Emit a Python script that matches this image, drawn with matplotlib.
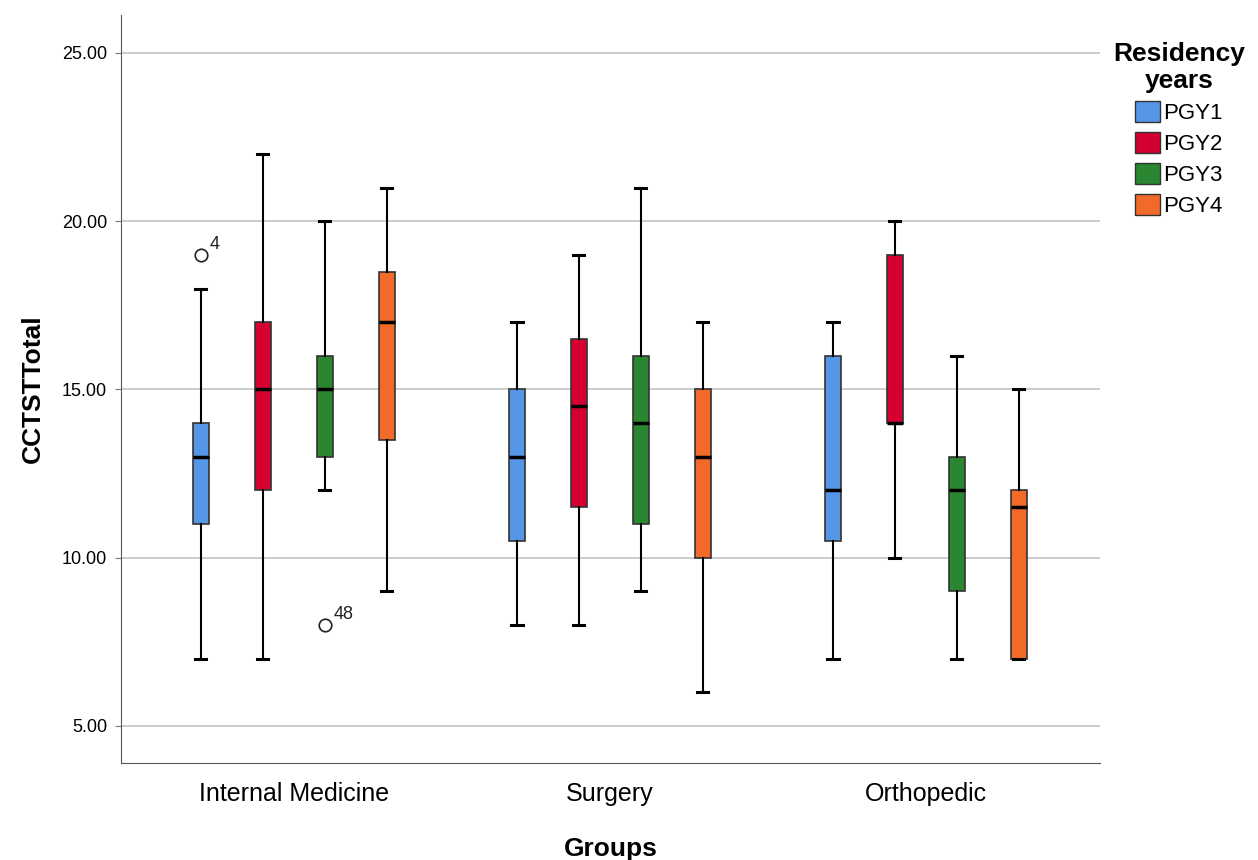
import matplotlib.pyplot as plt
from matplotlib.patches import Patch

plt.rcParams['font.family'] = ['Liberation Sans', 'DejaVu Sans']

groups = ["Internal Medicine", "Surgery", "Orthopedic"]
years = ["PGY1", "PGY2", "PGY3", "PGY4"]
colors = ["#5596E6", "#D50032", "#2A8631", "#F26A2A"]

# per group, per year: whisker low, q1, median, q3, whisker high
whislo = [[7, 7, 12, 9], [8, 8, 9, 6], [7, 10, 7, 7]]
q1 = [[11, 12, 13, 13.5], [10.5, 11.5, 11, 10], [10.5, 14, 9, 7]]
med = [[13, 15, 15, 17], [13, 14.5, 14, 13], [12, 14, 12, 11.5]]
q3 = [[14, 17, 16, 18.5], [15, 16.5, 16, 15], [16, 19, 13, 12]]
whishi = [[18, 22, 20, 21], [17, 19, 21, 17], [17, 20, 16, 15]]
outliers = [[[19], [], [8], []], [[], [], [], []], [[], [], [], []]]
outlier_ids = [[["4"], [], ["48"], []], [[], [], [], []], [[], [], [], []]]

offsets = [-0.294, -0.098, 0.098, 0.294]

fig = plt.figure(figsize=(12.58, 8.6), dpi=100)
ax = fig.add_axes([0.0962, 0.1128, 0.7782, 0.8698])

for gi in range(len(groups)):
    for yi in range(len(years)):
        st = dict(whislo=whislo[gi][yi], q1=q1[gi][yi], med=med[gi][yi],
                  q3=q3[gi][yi], whishi=whishi[gi][yi], fliers=outliers[gi][yi])
        pos = gi + offsets[yi]
        ax.bxp([st], positions=[pos], widths=0.05, capwidths=0.035,
               patch_artist=True, showfliers=True,
               boxprops=dict(facecolor=colors[yi], edgecolor="#333333", linewidth=1.2),
               medianprops=dict(color="black", linewidth=2.5),
               whiskerprops=dict(color="black", linewidth=1.5),
               capprops=dict(color="black", linewidth=2.2),
               flierprops=dict(marker="o", markerfacecolor="white",
                               markeredgecolor="#222222", markersize=9,
                               markeredgewidth=1.2))
        for v, lab in zip(outliers[gi][yi], outlier_ids[gi][yi]):
            ax.annotate(lab, (pos, v), xytext=(6, 4), textcoords="offset points",
                        fontsize=13, color="#222222")

ax.set_xlim(-0.547, 2.551)
ax.set_ylim(3.9, 26.13)
ax.set_yticks([5, 10, 15, 20, 25])
ax.set_yticklabels(["5.00", "10.00", "15.00", "20.00", "25.00"], fontsize=13)
ax.set_xticks(range(len(groups)))
ax.set_xticklabels(groups, fontsize=18)
ax.tick_params(axis="x", length=0, pad=14)
ax.tick_params(axis="y", length=4, color="#777777", pad=6)
ax.yaxis.grid(True, color="#c8c8c8", linewidth=1.3)
ax.set_axisbelow(True)
for s in ["top", "right"]:
    ax.spines[s].set_visible(False)
ax.spines["left"].set_color("#555555")
ax.spines["bottom"].set_color("#555555")

ax.set_ylabel("CCTSTTotal", fontsize=19, fontweight="bold", labelpad=12)
ax.set_xlabel("Groups", fontsize=19, fontweight="bold", labelpad=22)

handles = [Patch(facecolor=c, edgecolor="#333333", label=y) for c, y in zip(colors, years)]
leg = fig.legend(handles=handles, title="Residency\nyears", loc="upper center",
                 bbox_to_anchor=(0.9372, 0.975), frameon=False, fontsize=16,
                 title_fontproperties=dict(size=19, weight="bold"),
                 handlelength=1.1, handleheight=1.1, handletextpad=0.15,
                 labelspacing=0.35, alignment="center")
leg.get_title().set_multialignment("center")

fig.savefig("out.png", dpi=100)
